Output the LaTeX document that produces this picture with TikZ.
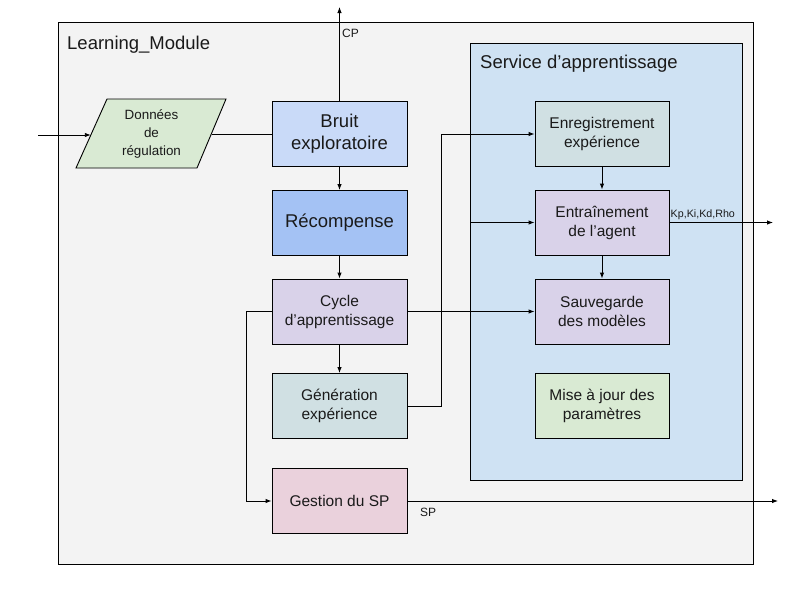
\documentclass[tikz,border=0pt]{standalone}
\usepackage{fontspec}
\setmainfont{Liberation Sans}
\usetikzlibrary{arrows.meta,calc}
\definecolor{outerbg}{HTML}{F3F3F3}
\definecolor{servbg}{HTML}{CFE2F3}
\definecolor{greenbg}{HTML}{D9EAD3}
\definecolor{bluebg}{HTML}{C9DAF8}
\definecolor{darkblue}{HTML}{A4C2F4}
\definecolor{purplebg}{HTML}{D9D2E9}
\definecolor{tealbg}{HTML}{D0E0E3}
\definecolor{pinkbg}{HTML}{EAD1DC}
\definecolor{txt}{HTML}{1A1A1A}
\tikzset{
  box/.style={draw, line width=0.9pt, minimum width=135pt, minimum height=65pt, align=center,
    font=\fontsize{15.5}{19}\selectfont, text=txt, inner sep=2pt},
  bigbox/.style={box, font=\fontsize{18.5}{22}\selectfont},
  conn/.style={draw, line width=0.9pt},
  arr/.style={conn, -{Latex[length=6pt,width=4.5pt]}},
  lbl/.style={font=\fontsize{12}{14}\selectfont, text=txt, inner sep=0pt},
  title/.style={font=\fontsize{18.5}{22}\selectfont, text=txt, inner sep=0pt, anchor=west}
}
\begin{document}
\begin{tikzpicture}[x=1pt,y=-1pt]
\useasboundingbox (0,0) rectangle (800,600);
% outer module
\draw[fill=outerbg, line width=0.9pt] (58,22) rectangle (753,564);
\node[title] (lm) at (67,45) {Learning\_Module};
% service box
\draw[fill=servbg, line width=0.9pt] (470,43) rectangle (742,480);
\node[title] (sa) at (480,64) {Service d’apprentissage};
% parallelogram
\draw[fill=greenbg, line width=0.9pt] (76,168) -- (107,99) -- (226,99) -- (197,168) -- cycle;
\node[align=center, font=\fontsize{13.4}{17.7}\selectfont, text=txt] (don) at (151.5,134) {Données\\de\\régulation};
\coordinate (donL) at (90.8,135);
\coordinate (donR) at (212.3,134);
\coordinate (inStart) at (38,135);
% left column
\node[bigbox, fill=bluebg] (bruit) at (339.5,134) {Bruit\\exploratoire};
\node[bigbox, fill=darkblue] (rec) at (339.5,223) {Récompense};
\node[box, fill=purplebg] (cycle) at (339.5,311.5) {Cycle\\d’apprentissage};
\node[box, fill=tealbg] (gen) at (339.5,406) {Génération\\expérience};
\node[box, fill=pinkbg] (gest) at (339.5,501) {Gestion du SP};
% right column
\node[box, fill=tealbg, minimum width=134pt] (enr) at (602,134) {Enregistrement\\expérience};
\node[box, fill=purplebg, minimum width=134pt] (ent) at (602,222.5) {Entraînement\\de l’agent};
\node[box, fill=purplebg, minimum width=134pt] (sauv) at (602,311.5) {Sauvegarde\\des modèles};
\node[box, fill=greenbg, minimum width=134pt] (maj) at (602,406) {Mise à jour des\\paramètres};
% free ends
\coordinate (cpEnd) at (339.5,7);
\coordinate (kpEnd) at (773,222.5);
\coordinate (spEnd) at (778,501);
\coordinate (j1) at (470,311.5);
% connectors
\draw[arr] (inStart) -- (donL);
\draw[conn] (donR) -- (bruit.west);
\draw[arr] (bruit.north) -- (cpEnd);
\node[lbl, anchor=west] (cp) at (342,33) {CP};
\draw[arr] (bruit.south) -- (rec.north);
\draw[arr] (rec.south) -- (cycle.north);
\draw[arr] (cycle.south) -- (gen.north);
\draw[arr] (cycle.west) -- ++(-25,0) |- (gest.west);
\draw[arr] (cycle.east) -- (sauv.west);
\draw[arr] (j1) |- (ent.west);
\draw[arr] (gen.east) -- ++(34,0) |- (enr.west);
\draw[arr] (enr.south) -- (ent.north);
\draw[arr] (ent.south) -- (sauv.north);
\draw[arr] (ent.east) -- (kpEnd);
\node[lbl, font=\fontsize{10.7}{12}\selectfont, anchor=south west] (kp) at (670.5,219.5) {Kp,Ki,Kd,Rho};
\draw[arr] (gest.east) -- (spEnd);
\node[lbl, anchor=west] (sp) at (420,512) {SP};
\end{tikzpicture}
\end{document}
